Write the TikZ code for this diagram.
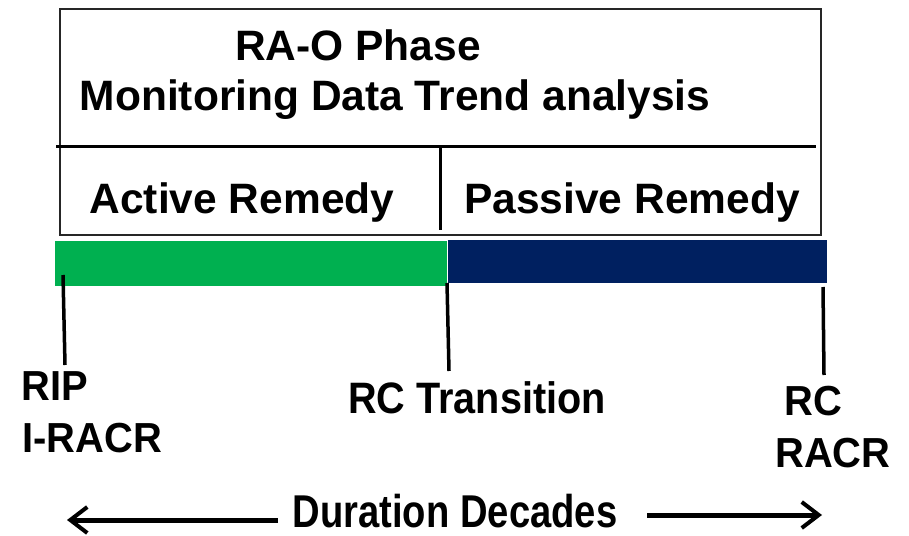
\documentclass[tikz,border=0pt]{standalone}
\usepackage{fontspec}
\setmainfont{Liberation Sans}
\newfontfamily\lblfont[FakeStretch=0.95]{Liberation Sans}
\newfontfamily\trfont[FakeStretch=0.90]{Liberation Sans}
\newfontfamily\durfont[FakeStretch=0.83]{Liberation Sans}
\usetikzlibrary{arrows.meta}
\definecolor{actgreen}{HTML}{00B050}
\definecolor{pasnavy}{HTML}{002060}
\tikzset{
  frame/.style={draw=black!85, line width=1.5pt},
  divider/.style={draw=black, line width=3pt},
  tick/.style={draw=black, line width=3.5pt},
  head/.style={font=\fontsize{42.5}{48}\selectfont\bfseries, inner sep=0pt, anchor=base},
  lbl/.style={font=\lblfont\fontsize{42}{48}\selectfont\bfseries, inner sep=0pt, anchor=base west},
  arr/.style={line width=5pt, -{Straight Barb[length=17pt, width=26pt, line width=4pt]}},
}
\begin{document}
\begin{tikzpicture}[x=1pt, y=-1pt]
\useasboundingbox (0,0) rectangle (909,535);
% top box
\draw[frame] (60,9) rectangle (821,235);
\draw[divider] (56,146) -- (816,146);
\draw[divider] (440,147) -- (440,230);
\node[head] (t1) at (358,60) {RA-O Phase};
\node[head] (t2) at (395,110) {Monitoring Data Trend analysis};
\node[head] (act) at (242,213) {Active Remedy};
\node[head] (pas) at (632,213) {Passive Remedy};
% bars
\fill[actgreen] (55,241) rectangle (447,286);
\fill[pasnavy] (448,240) rectangle (827,283);
% ticks
\coordinate (a1) at (63,275); \coordinate (a2) at (65,365);
\coordinate (b1) at (447,283); \coordinate (b2) at (449,371);
\coordinate (c1) at (823,287); \coordinate (c2) at (824,375);
\draw[tick] (a1) -- (a2);
\draw[tick] (b1) -- (b2);
\draw[tick] (c1) -- (c2);
% labels
\node[lbl] (rip) at (21,400) {RIP};
\node[lbl] (iracr) at (22,452) {I-RACR};
\node[font=\trfont\fontsize{44}{50}\selectfont\bfseries, inner sep=0pt, anchor=base] (rct) at (477,413) {RC Transition};
\node[lbl] (rc) at (784,415) {RC};
\node[lbl] (racr) at (775,467) {RACR};
% duration
\node[font=\durfont\fontsize{46}{52}\selectfont\bfseries, inner sep=0pt, anchor=base] (dur) at (455,527) {Duration Decades};
\coordinate (l1) at (278,520); \coordinate (l2) at (67,520);
\coordinate (r1) at (647,515); \coordinate (r2) at (822,515);
\draw[arr] (l1) -- (l2);
\draw[arr] (r1) -- (r2);
\end{tikzpicture}
\end{document}
